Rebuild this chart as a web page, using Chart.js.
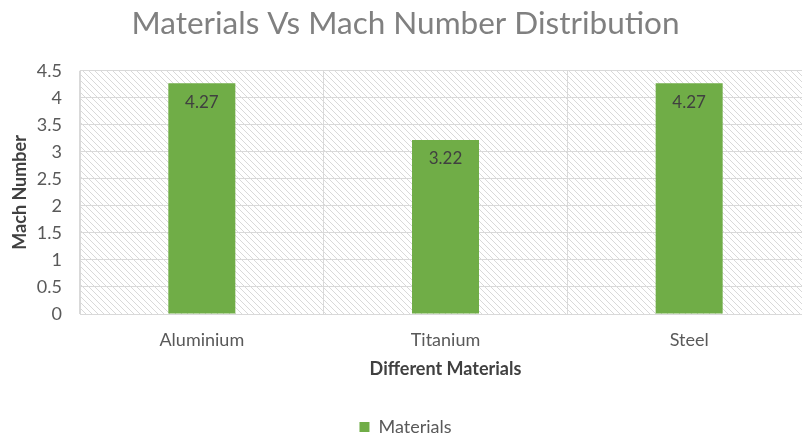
<!DOCTYPE html>
<html>
<head>
<meta charset="utf-8">
<script src="https://cdn.jsdelivr.net/npm/chart.js@4/dist/chart.umd.min.js"></script>
<style>
  html, body { margin: 0; padding: 0; background: #fff; overflow: hidden; }
  #wrap { width: 812px; height: 438px; }
</style>
</head>
<body>
<div id="wrap"><canvas id="machChart"></canvas></div>
<script>
const materials = ['Aluminium', 'Titanium', 'Steel'];
const machNumbers = [4.27, 3.22, 4.27];
const yTicks = [0, 0.5, 1, 1.5, 2, 2.5, 3, 3.5, 4, 4.5];

const FONT = 'Lato, "Liberation Sans", sans-serif';
const GREEN = '#70ad47';
const GRID = '#d9d9d9';

// light diagonal hatch behind the plot
function makeHatch() {
    const c = document.createElement('canvas');
    c.width = 6; c.height = 6;
    const g = c.getContext('2d');
    g.fillStyle = '#fff';
    g.fillRect(0, 0, 6, 6);
    g.strokeStyle = '#d9d9d9';
    g.lineWidth = 1;
    g.beginPath();
    g.moveTo(-1, -1); g.lineTo(7, 7);
    g.moveTo(-1, 5); g.lineTo(1, 7);
    g.moveTo(5, -1); g.lineTo(7, 1);
    g.stroke();
    return c;
}

const hatchPlugin = {
    id: 'hatch',
    beforeDraw(chart) {
        const { ctx, chartArea: a } = chart;
        ctx.save();
        ctx.fillStyle = ctx.createPattern(makeHatch(), 'repeat');
        ctx.fillRect(a.left, a.top, a.right - a.left, a.bottom - a.top);
        ctx.restore();
    }
};

// value printed just inside the top of each bar
const valueLabels = {
    id: 'valueLabels',
    afterDatasetsDraw(chart) {
        const { ctx } = chart;
        const meta = chart.getDatasetMeta(0);
        ctx.save();
        ctx.font = '17px ' + FONT;
        ctx.fillStyle = '#404040';
        ctx.textAlign = 'center';
        ctx.textBaseline = 'middle';
        meta.data.forEach((bar, i) => {
            ctx.fillText(machNumbers[i].toFixed(2), bar.x, bar.y + 19);
        });
        ctx.restore();
    }
};

const ctx = document.getElementById('machChart').getContext('2d');
const machChart = new Chart(ctx, {
    type: 'bar',
    data: {
        labels: materials,
        datasets: [{
            label: 'Materials',
            data: machNumbers,
            backgroundColor: GREEN,
            categoryPercentage: 1,
            barPercentage: 0.275
        }]
    },
    options: {
        responsive: true,
        maintainAspectRatio: false,
        animation: false,
        layout: { padding: { top: 0, left: 0, right: 1, bottom: -8 } },
        plugins: {
            title: {
                display: true,
                text: 'Materials Vs Mach Number Distribution',
                color: '#808080',
                font: { family: FONT, size: 31.5, weight: 'normal' },
                padding: { top: 5, bottom: 28 }
            },
            legend: {
                position: 'bottom',
                labels: {
                    boxWidth: 10,
                    boxHeight: 10,
                    color: '#595959',
                    font: { family: FONT, size: 18 },
                    padding: 0
                }
            },
            tooltip: { enabled: false }
        },
        scales: {
            x: {
                grid: { color: GRID, drawTicks: false, offset: true },
                border: { color: GRID },
                ticks: { color: '#595959', font: { family: FONT, size: 18 }, padding: 15 },
                title: {
                    display: true,
                    text: 'Different Materials',
                    color: '#404040',
                    font: { family: FONT, size: 18, weight: 'bold' },
                    padding: { top: 0, bottom: 38 }
                },
                afterFit(scale) { scale.height = 104; }
            },
            y: {
                min: 0,
                max: 4.5,
                afterBuildTicks(scale) { scale.ticks = yTicks.map(v => ({ value: v })); },
                grid: { color: GRID, drawTicks: false },
                border: { color: GRID },
                ticks: {
                    color: '#595959',
                    font: { family: FONT, size: 18 },
                    padding: 18,
                    callback: v => String(v)
                },
                title: {
                    display: true,
                    text: 'Mach Number',
                    color: '#404040',
                    font: { family: FONT, size: 18, weight: 'bold' },
                    padding: { top: 9, bottom: 0 }
                },
                afterFit(scale) { scale.width = 80; }
            }
        }
    },
    plugins: [hatchPlugin, valueLabels]
});
</script>
</body>
</html>
